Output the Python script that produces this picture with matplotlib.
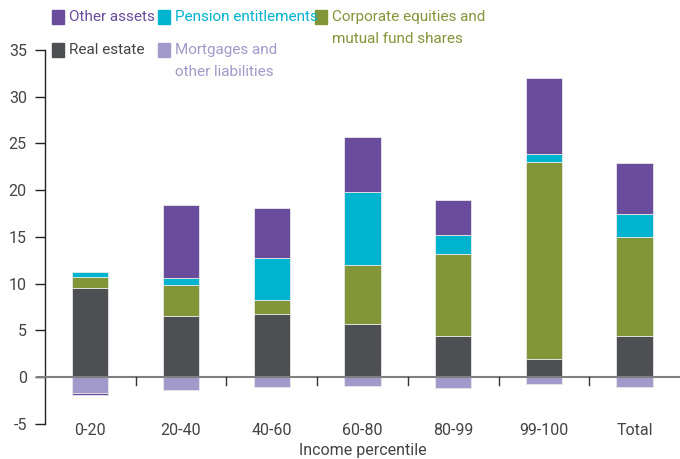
import matplotlib.pyplot as plt
import numpy as np

categories = ["0-20", "20-40", "40-60", "60-80", "80-99", "99-100", "Total"]
real_estate = [9.5, 6.5, 6.8, 5.7, 4.4, 2.0, 4.4]
corporate = [1.2, 3.4, 1.5, 6.3, 8.8, 21.0, 10.6]
pension = [0.6, 0.7, 4.5, 7.8, 2.0, 0.9, 2.5]
other_assets = [-0.2, 7.8, 5.3, 5.9, 3.8, 8.1, 5.4]
mortgages = [-1.7, -1.4, -1.0, -0.9, -1.2, -0.7, -1.0]

c_other = "#6a4c9c"
c_pension = "#00b4d0"
c_corp = "#829639"
c_real = "#4d4f53"
c_mort = "#a29acb"

plt.rcParams['font.family'] = ['Roboto', 'DejaVu Sans']
FS = 11

fig = plt.figure(figsize=(6.8, 4.59), dpi=100)
ax = fig.add_axes([0.066, 0.0763, 0.934, 0.815])

x = np.arange(len(categories))
w = 0.4
edge = dict(edgecolor="#e8e8e8", linewidth=0.6)

pos_base = np.zeros(len(categories))
neg_base = np.zeros(len(categories))


def stack(vals, color):
    vals = np.array(vals, dtype=float)
    bottoms = np.where(vals >= 0, pos_base, neg_base)
    ax.bar(x, vals, w, bottom=bottoms, color=color, **edge, zorder=2)
    pos_base[:] = np.where(vals >= 0, pos_base + vals, pos_base)
    neg_base[:] = np.where(vals < 0, neg_base + vals, neg_base)


stack(real_estate, c_real)
stack(corporate, c_corp)
stack(pension, c_pension)
stack(mortgages, c_mort)
stack(other_assets, c_other)

ax.set_xlim(-0.5, 6.5)
ax.set_ylim(-5, 35)
ax.set_yticks(range(-5, 36, 5))
ax.set_yticklabels([str(v) for v in range(-5, 36, 5)])
for s in ["top", "right", "bottom"]:
    ax.spines[s].set_visible(False)
ax.spines["left"].set_color("#222222")
ax.spines["left"].set_linewidth(1.0)
ax.tick_params(axis="y", direction="out", length=7, width=1.0, color="#222222",
               labelsize=FS + 0.5, labelcolor="#444444", pad=6)
ax.tick_params(axis="x", length=0, labelsize=FS + 0.5, labelcolor="#444444", pad=-1)
ax.set_xticks(x)
ax.set_xticklabels(categories)

# zero line with separator ticks
ax.axhline(0, color="#7f7f7f", linewidth=1.5, zorder=3, xmin=-0.012, clip_on=False)
for b in np.arange(0.5, 6.5, 1.0):
    ax.plot([b, b], [0, -0.8], color="#333333", linewidth=1.0, zorder=3)

ax.set_xlabel("Income percentile", fontsize=FS + 0.5, color="#444444", labelpad=4)

# legend
items = [
    (52, 17, c_other, "Other assets", c_other),
    (158, 17, c_pension, "Pension entitlements", c_pension),
    (315, 17, c_corp, "Corporate equities and\nmutual fund shares", c_corp),
    (52, 50, c_real, "Real estate", "#444444"),
    (158, 50, c_mort, "Mortgages and\nother liabilities", c_mort),
]
H = 459.0
Wd = 680.0
for px, py, col, txt, tcol in items:
    fig.patches.append(plt.Rectangle((px / Wd, 1 - (py + 7) / H), 12 / Wd, 14 / H,
                                     transform=fig.transFigure, color=col, figure=fig))
    fig.text((px + 17) / Wd, 1 - (py - 7) / H, txt, color=tcol, fontsize=FS,
             va="top", ha="left", linespacing=1.7)

fig.savefig("out.png", dpi=100)
